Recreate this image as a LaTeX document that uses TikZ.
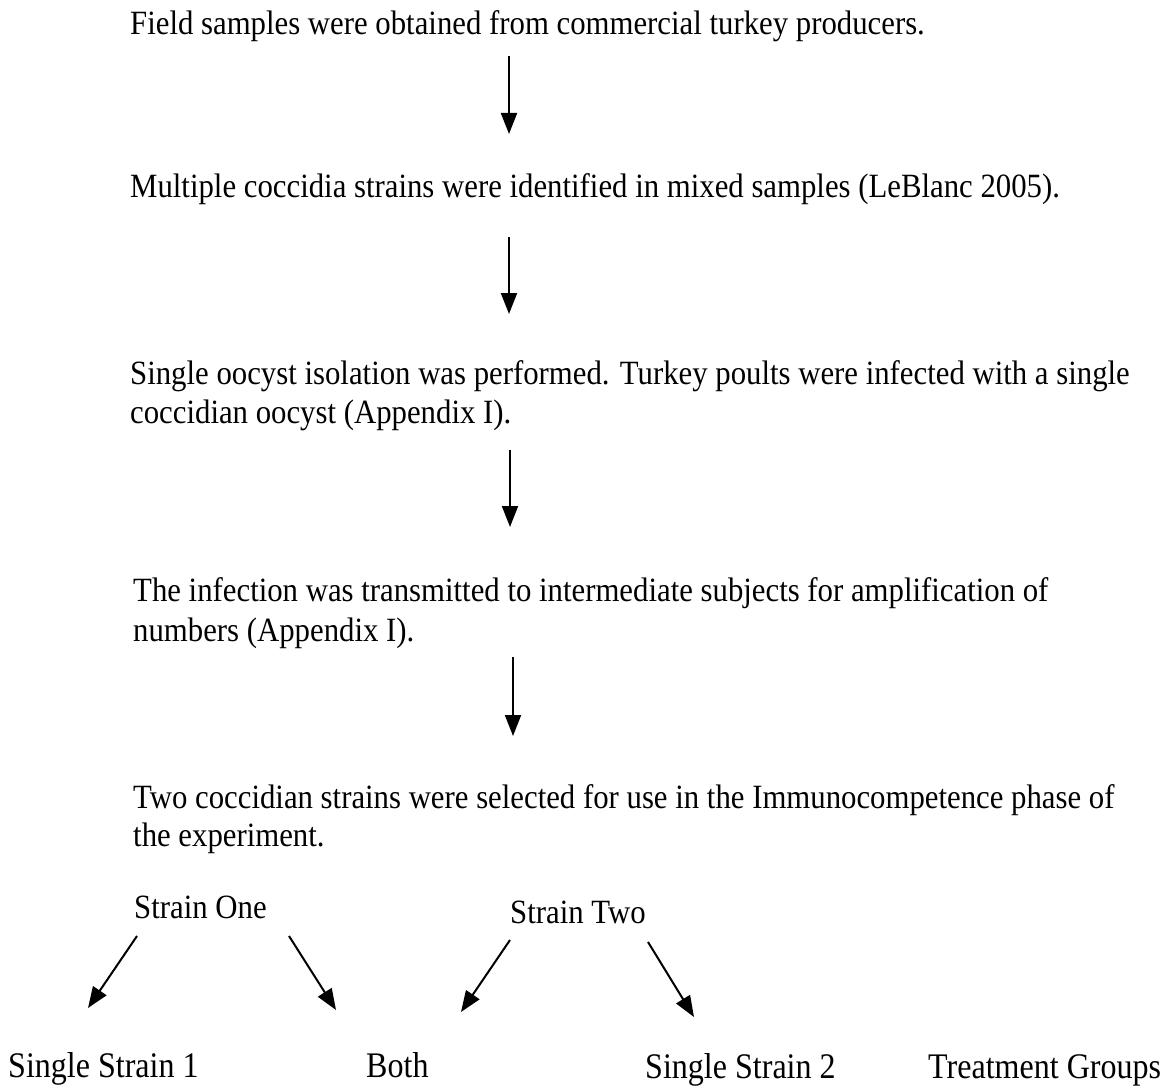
\documentclass[tikz,border=0pt]{standalone}
\usepackage{fontspec}
\setmainfont{Liberation Serif}[FakeStretch=0.905]
\newfontfamily\labfont{Liberation Serif}[FakeStretch=0.89]
\usetikzlibrary{arrows.meta}
\begin{document}
\begin{tikzpicture}[x=1pt,y=-1pt,
  txt/.style={anchor=base west,inner sep=0pt,font=\fontsize{34}{39}\selectfont},
  big/.style={anchor=base west,inner sep=0pt,font=\labfont\fontsize{36}{40}\selectfont},
  flow/.style={line width=2pt,-{Triangle[length=21pt,width=16pt]}}]
\useasboundingbox[fill=white] (0,0) rectangle (1161,1086);
\node[txt] (t1) at (130,35) {Field samples were obtained from commercial turkey producers.};
\node[txt] (t2) at (130,197) {Multiple coccidia strains were identified in mixed samples (LeBlanc 2005).};
\node[txt] (t3a) at (130,384) {Single oocyst isolation was performed. Turkey poults were infected with a single};
\node[txt] (t3b) at (130,423) {coccidian oocyst (Appendix I).};
\node[txt] (t4a) at (133,601) {The infection was transmitted to intermediate subjects for amplification of};
\node[txt] (t4b) at (133,641) {numbers (Appendix I).};
\node[txt] (t5a) at (133,808) {Two coccidian strains were selected for use in the Immunocompetence phase of};
\node[txt] (t5b) at (133,846) {the experiment.};
\node[txt] (s1) at (134,918) {Strain One};
\node[txt] (s2) at (510,923) {Strain Two};
\node[big] (g1) at (8,1077) {Single Strain 1};
\node[big] (g2) at (366,1077) {Both};
\node[big] (g3) at (645,1078) {Single Strain 2};
\node[big] (g4) at (928,1078) {Treatment Groups};
\coordinate (a1s) at (509,56);  \coordinate (a1e) at (509,134);
\coordinate (a2s) at (509,237); \coordinate (a2e) at (509,314);
\coordinate (a3s) at (510,450); \coordinate (a3e) at (510,527);
\coordinate (a4s) at (513,657); \coordinate (a4e) at (513,736);
\draw[flow] (a1s) -- (a1e);
\draw[flow] (a2s) -- (a2e);
\draw[flow] (a3s) -- (a3e);
\draw[flow] (a4s) -- (a4e);
\coordinate (b1s) at (137,936); \coordinate (b1e) at (88,1008);
\coordinate (b2s) at (289,936); \coordinate (b2e) at (336,1010);
\coordinate (b3s) at (510,940); \coordinate (b3e) at (461,1012);
\coordinate (b4s) at (648,942); \coordinate (b4e) at (694,1017);
\draw[flow] (b1s) -- (b1e);
\draw[flow] (b2s) -- (b2e);
\draw[flow] (b3s) -- (b3e);
\draw[flow] (b4s) -- (b4e);
\end{tikzpicture}
\end{document}
